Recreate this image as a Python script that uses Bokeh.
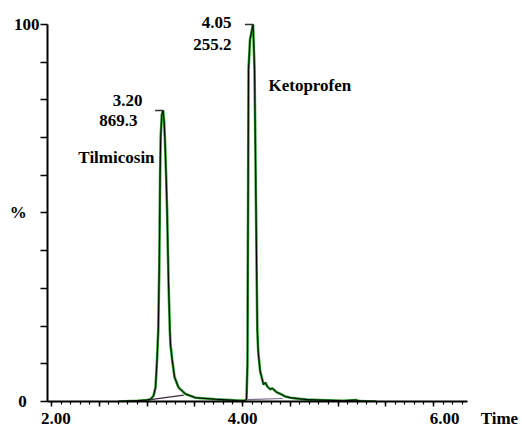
from bokeh.plotting import figure
from bokeh.models import FixedTicker, Label, Range1d
from bokeh.embed import file_html
from bokeh.resources import INLINE

# ---- data (retention time in min, relative intensity in %) ----
tilmicosin_time = [2.70, 2.90, 3.00, 3.037, 3.068, 3.089, 3.105, 3.118, 3.128, 3.134, 3.137, 3.143,
                   3.155, 3.168, 3.180, 3.187, 3.200, 3.211, 3.225, 3.239, 3.246, 3.264, 3.288,
                   3.330, 3.403, 3.508, 3.717, 3.927, 4.020]
tilmicosin_int = [0.0, 0.2, 0.4, 0.6, 1.5, 3.7, 11, 19, 35, 50, 60, 70,
                  76, 77.2, 74, 70, 60, 50, 32, 19, 15, 11, 6.5,
                  3.7, 2.0, 1.0, 0.6, 0.3, 0.2]

ketoprofen_time = [3.95, 4.021, 4.042, 4.052, 4.058, 4.063, 4.079, 4.110, 4.116, 4.126, 4.138,
                   4.148, 4.155, 4.165, 4.185, 4.220, 4.240, 4.259, 4.290, 4.311, 4.356, 4.398,
                   4.450, 4.503, 4.600, 4.677, 4.800, 4.921, 5.050, 5.190, 5.220, 5.400]
ketoprofen_int = [0.1, 0.2, 0.6, 10, 50, 88, 96, 100, 96, 88, 60,
                  35, 19, 13, 8, 4.5, 5.0, 4.0, 3.2, 3.5, 2.5, 2.0,
                  1.3, 1.0, 0.7, 0.5, 0.4, 0.3, 0.2, 0.4, 0.1, 0.0]

# integration baselines
tilm_base_time = [3.037, 3.385]
tilm_base_int = [0.5, 1.7]
keto_base_time = [4.05, 4.42]
keto_base_int = [0.5, 0.8]

# peak apex markers (time, intensity)
apex_time = [3.170, 4.110]
apex_int = [77.2, 100.0]

nb = "\u00a0"
x_major = [2.0, 2.5, 3.0, 3.5, 4.0, 4.5, 5.0, 5.5, 6.0]
x_minor = [round(2.0 + 0.1 * i, 1) for i in range(44)]
x_axis_title = "Time"
# the axis title sits on the same line as the last tick label, to its right
x_labels = {2.0: nb * 2 + "2.00", 4.0: "4.00",
            6.0: nb * 19 + "6.00" + nb * 5 + x_axis_title}
y_ticks = [0, 10, 20, 30, 40, 50, 60, 70, 80, 90, 100]
y_labels = {0: "0" + nb * 3, 50: "%" + nb * 3, 100: "100"}

FONT = "Liberation Serif"

p = figure(width=522, height=430, output_backend="svg", toolbar_location=None,
           x_range=Range1d(1.958, 6.356), y_range=Range1d(0, 102.1),
           min_border_left=47, min_border_right=55, min_border_top=16, min_border_bottom=26)
p.xgrid.visible = False
p.ygrid.visible = False
p.outline_line_color = None
p.background_fill_color = "white"

# traces
p.line(tilmicosin_time, tilmicosin_int, line_color="#2e9a2e", line_width=2.6)
p.line(tilmicosin_time, tilmicosin_int, line_color="black", line_width=1)
p.line(ketoprofen_time, ketoprofen_int, line_color="#2e9a2e", line_width=2.6)
p.line(ketoprofen_time, ketoprofen_int, line_color="black", line_width=1)
p.line(tilm_base_time, tilm_base_int, line_color="#3a2a3a", line_width=1.2)
p.line(keto_base_time, keto_base_int, line_color="#7a6a8a", line_width=1.2)

# apex markers
p.segment(x0=[t - 0.085 for t in apex_time], y0=apex_int, x1=apex_time, y1=apex_int,
          line_color="#333333", line_width=1.5)

# axes
xa = p.xaxis[0]
xa.ticker = FixedTicker(ticks=x_major, minor_ticks=x_minor)
xa.major_label_overrides = {t: x_labels.get(t, "") for t in x_major}
xa.major_tick_out = 5
xa.major_tick_in = 0
xa.minor_tick_out = 3
xa.minor_tick_in = 0
xa.major_tick_line_width = 1.5
xa.minor_tick_line_width = 1.2
xa.axis_line_width = 2
xa.major_label_standoff = 2
xa.major_label_text_font = FONT
xa.major_label_text_font_style = "bold"
xa.major_label_text_font_size = "17px"
xa.major_label_text_color = "black"

ya = p.yaxis[0]
ya.ticker = FixedTicker(ticks=y_ticks, minor_ticks=[])
ya.major_label_overrides = {t: y_labels.get(t, "") for t in y_ticks}
ya.bounds = (0, 100)
ya.major_tick_out = 7
ya.major_tick_in = 0
ya.minor_tick_out = 0
ya.minor_tick_in = 0
ya.major_tick_line_width = 1.5
ya.axis_line_width = 2
ya.major_label_standoff = 1
ya.major_label_text_font = FONT
ya.major_label_text_font_style = "bold"
ya.major_label_text_font_size = "17px"
ya.major_label_text_color = "black"

# peak annotations
ann_text = ["3.20", "869.3", "Tilmicosin", "4.05", "255.2", "Ketoprofen"]
ann_x = [2.953, 2.900, 3.079, 3.885, 3.885, 4.272]
ann_y = [79.7, 74.5, 64.7, 100.5, 94.7, 83.9]
ann_align = ["right", "right", "right", "right", "right", "left"]
for t, x, y, a in zip(ann_text, ann_x, ann_y, ann_align):
    p.add_layout(Label(x=x, y=y, text=t, text_align=a, text_baseline="middle",
                       text_font=FONT, text_font_style="bold", text_font_size="17px",
                       text_color="black"))

open("out.html", "w").write(file_html(p, INLINE))
